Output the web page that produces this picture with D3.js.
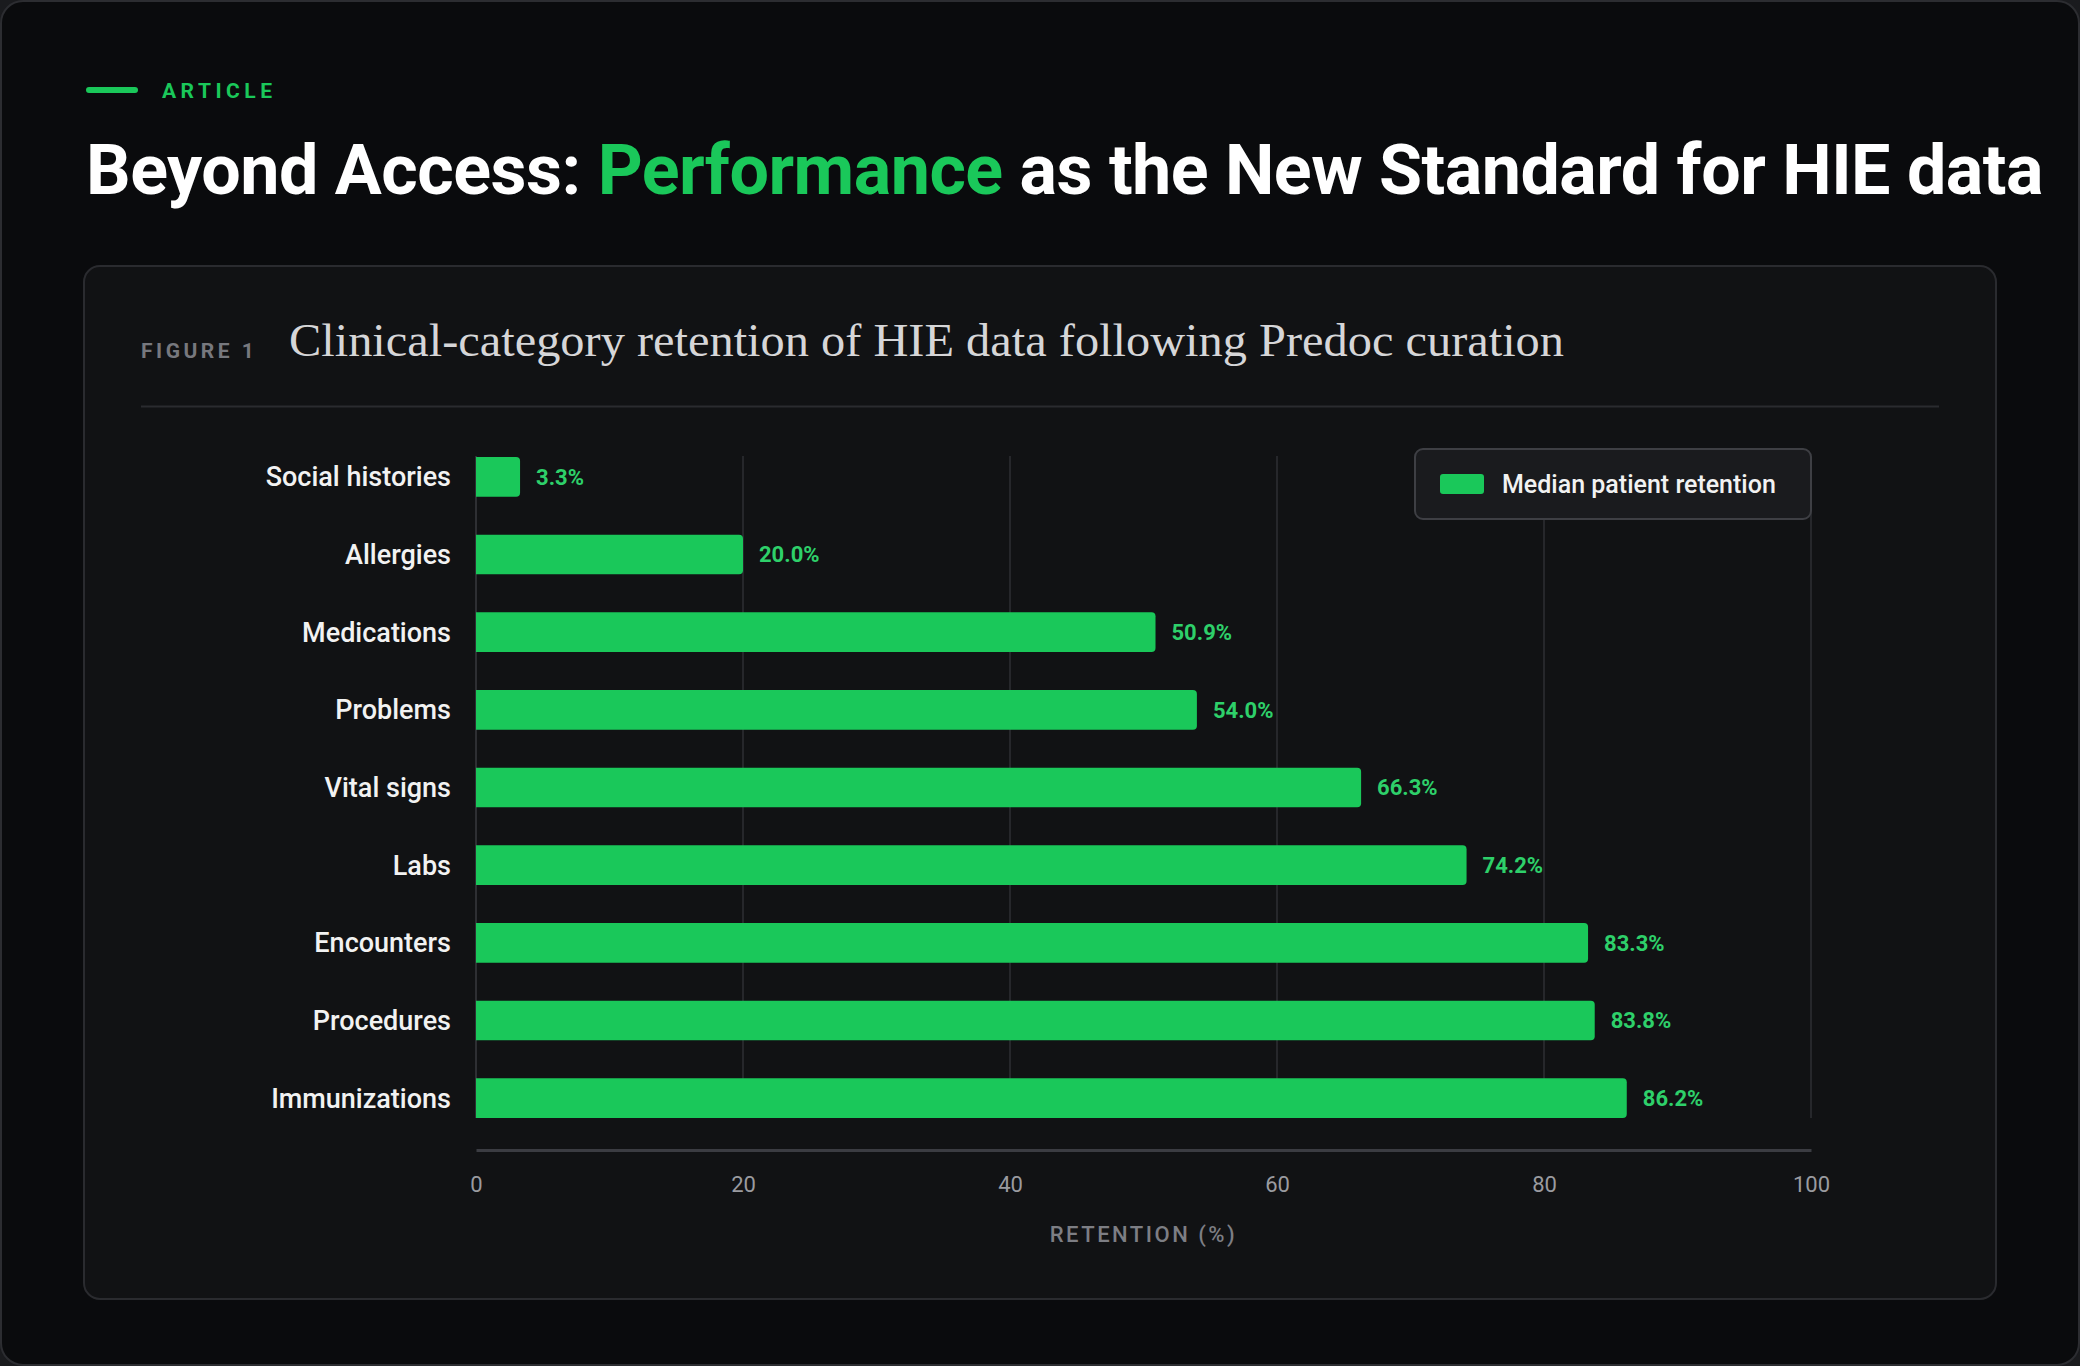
<!DOCTYPE html>
<html><head><meta charset="utf-8">
<script src="https://cdn.jsdelivr.net/npm/d3@7"></script>
<style>html,body{margin:0;padding:0;background:#1a1b1e;}svg{display:block}</style>
</head><body>
<script>
const categories = ["Social histories","Allergies","Medications","Problems","Vital signs","Labs","Encounters","Procedures","Immunizations"];
const values = [3.3,20.0,50.9,54.0,66.3,74.2,83.3,83.8,86.2];
const xTicks = [0,20,40,60,80,100];
const seriesName = "Median patient retention";

const W=2080,H=1366, green="#1ac85a";
const svg=d3.select("body").append("svg").attr("width",W).attr("height",H);
svg.append("rect").attr("x",1).attr("y",1).attr("width",W-2).attr("height",H-2).attr("rx",22)
  .attr("fill","#0a0b0d").attr("stroke","#2c2d31").attr("stroke-width",2);
svg.append("rect").attr("x",86).attr("y",87).attr("width",52).attr("height",6).attr("rx",3).attr("fill",green);
svg.append("text").attr("x",162).attr("y",98).attr("fill",green).attr("font-family","Roboto")
  .attr("font-weight",700).attr("font-size",21).attr("letter-spacing",4.5).text("ARTICLE");
const t=svg.append("text").attr("x",86).attr("y",194).attr("font-family","Roboto").attr("font-weight",700)
  .attr("font-size",70).attr("fill","#fff").attr("letter-spacing",-0.5);
t.append("tspan").text("Beyond Access: ");
t.append("tspan").attr("fill",green).text("Performance");
t.append("tspan").text(" as the New Standard for HIE data");

svg.append("rect").attr("x",84).attr("y",266).attr("width",1912).attr("height",1033).attr("rx",16)
  .attr("fill","#111214").attr("stroke","#2a2b2f").attr("stroke-width",2);
svg.append("text").attr("x",141).attr("y",358).attr("fill","#77787e").attr("font-family","Roboto")
  .attr("font-weight",700).attr("font-size",21).attr("letter-spacing",3.5).text("FIGURE 1");
svg.append("text").attr("x",289).attr("y",356).attr("fill","#d6d6d8").attr("font-family","Liberation Serif")
  .attr("font-size",47).attr("textLength",1275).attr("lengthAdjust","spacingAndGlyphs")
  .text("Clinical-category retention of HIE data following Predoc curation");
svg.append("line").attr("x1",141).attr("x2",1939).attr("y1",406.5).attr("y2",406.5).attr("stroke","#2a2b2f").attr("stroke-width",2);

const x=d3.scaleLinear().domain([0,100]).range([476,1811]);
const y=d3.scaleBand().domain(categories).range([438,1137]).paddingInner(0.49).paddingOuter(0.245);
const g=svg.append("g");
g.selectAll(".grid").data(xTicks.slice(1)).join("line").attr("x1",d=>x(d)).attr("x2",d=>x(d))
  .attr("y1",456).attr("y2",1118).attr("stroke","#26272b").attr("stroke-width",2);
g.append("line").attr("x1",x(0)).attr("x2",x(0)).attr("y1",456).attr("y2",1118).attr("stroke","#2e2f33").attr("stroke-width",2);
g.selectAll(".bar").data(values).join("path").attr("fill",green)
  .attr("d",(d,i)=>{const x0=x(0),x1=x(d),y0=y(categories[i]),h=y.bandwidth(),r=4;
    return `M${x0},${y0}H${x1-r}Q${x1},${y0} ${x1},${y0+r}V${y0+h-r}Q${x1},${y0+h} ${x1-r},${y0+h}H${x0}Z`;});
g.selectAll(".val").data(values).join("text").attr("x",d=>x(d)+16).attr("y",(d,i)=>y(categories[i])+y.bandwidth()/2)
  .attr("dy","0.35em").attr("fill","#2ed06a").attr("font-family","Roboto").attr("font-weight",700).attr("font-size",22)
  .text(d=>d.toFixed(1)+"%");
g.selectAll(".cat").data(categories).join("text").attr("x",451).attr("y",d=>y(d)+y.bandwidth()/2)
  .attr("dy","0.35em").attr("text-anchor","end").attr("fill","#f2f2f2").attr("font-family","Roboto")
  .attr("font-weight",500).attr("font-size",27).text(d=>d);

const ax=svg.append("g").attr("transform","translate(0,1150)")
  .call(d3.axisBottom(x).tickValues(xTicks).tickSize(0).tickPadding(26));
ax.select(".domain").attr("stroke","#3b3c42").attr("stroke-width",3);
ax.selectAll("text").attr("fill","#9a9ba0").attr("font-family","Roboto").attr("font-size",22);
svg.append("text").attr("x",x(50)).attr("y",1242).attr("text-anchor","middle").attr("fill","#7d7e84")
  .attr("font-family","Roboto").attr("font-weight",500).attr("font-size",22).attr("letter-spacing",2.5).text("RETENTION (%)");

const lg=svg.append("g");
lg.append("rect").attr("x",1415).attr("y",449).attr("width",396).attr("height",70).attr("rx",8)
  .attr("fill","#1a1b1e").attr("stroke","#3e3f44").attr("stroke-width",2);
lg.append("rect").attr("x",1440).attr("y",474).attr("width",44).attr("height",20).attr("rx",3).attr("fill",green);
lg.append("text").attr("x",1502).attr("y",484).attr("dy","0.35em").attr("fill","#f2f2f2")
  .attr("font-family","Roboto").attr("font-weight",500).attr("font-size",25).text(seriesName);
</script>
</body></html>
